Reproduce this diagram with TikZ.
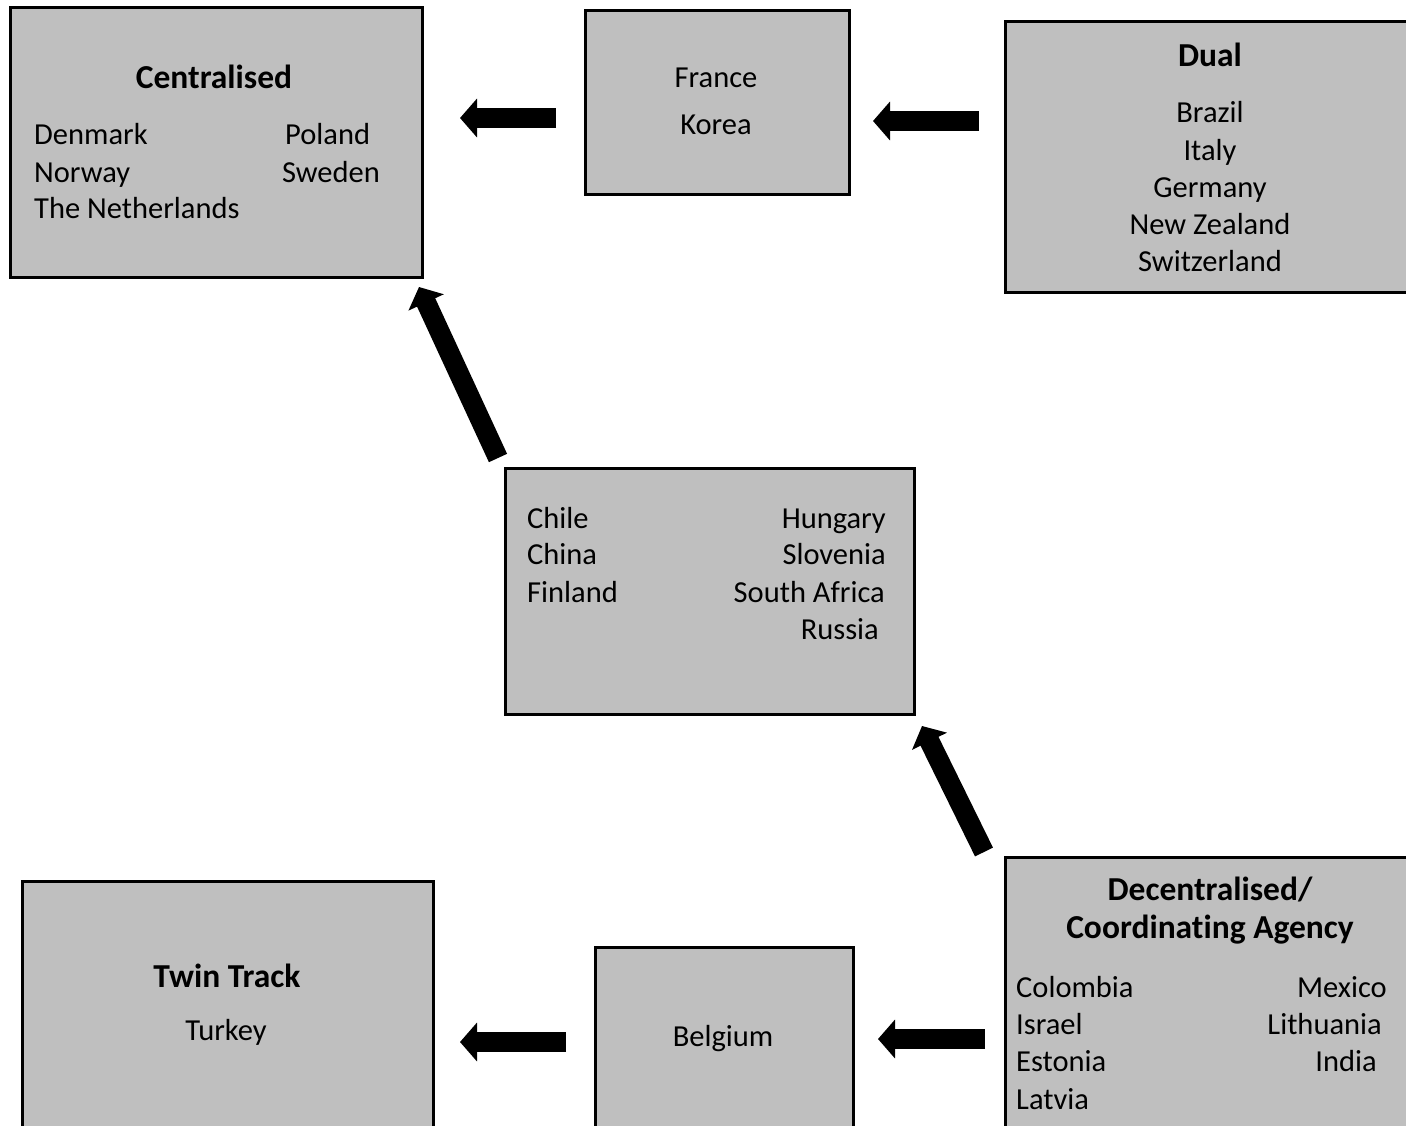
\documentclass[tikz,border=0pt]{standalone}
\usepackage{fontspec}
\setmainfont{Carlito}[Ligatures=NoCommon]
\usetikzlibrary{arrows.meta}
\definecolor{boxgray}{RGB}{191,191,191}
\begin{document}
\begin{tikzpicture}[x=1pt,y=-1pt,
 box/.style={draw=black, fill=boxgray, line width=3pt, rectangle},
 txt/.style={font=\fontsize{30.5}{36}\selectfont, inner sep=0pt, yshift=-8pt},
 ttl/.style={font=\bfseries\fontsize{33.5}{40}\selectfont, inner sep=0pt},
 fat/.style={draw=black, line width=20pt, -{Triangle[width=38pt,length=17pt]}}]
\useasboundingbox (0,0) rectangle (1406,1125);
\fill[white] (0,0) rectangle (1406,1125);
\clip (0,0) rectangle (1406,1125);
% boxes
\draw[box] (10,7) rectangle (422,277);
\draw[box] (585,10) rectangle (849,194);
\draw[box] (1005,21) rectangle (1430,292);
\draw[box] (505,468) rectangle (914,714);
\draw[box] (22,881) rectangle (433,1150);
\draw[box] (595,947) rectangle (853,1150);
\draw[box] (1005,857) rectangle (1430,1150);
% Centralised
\node[ttl] (cenT) at (214,77) {Centralised};
\node[txt, anchor=mid west] (den) at (34,134) {Denmark};
\node[txt, anchor=mid west] (nor) at (34,172) {Norway};
\node[txt, anchor=mid west] (net) at (34,208) {The Netherlands};
\node[txt, anchor=mid west] (pol) at (285,134) {Poland};
\node[txt, anchor=mid west] (swe) at (282,172) {Sweden};
% France Korea
\node[txt, anchor=mid] (fra) at (716,77) {France};
\node[txt, anchor=mid] (kor) at (716,124) {Korea};
% Dual
\node[ttl] (dualT) at (1210,55) {Dual};
\node[txt, anchor=mid] (bra) at (1210,112) {Brazil};
\node[txt, anchor=mid] (ita) at (1210,150) {Italy};
\node[txt, anchor=mid] (ger) at (1210,187) {Germany};
\node[txt, anchor=mid] (nz) at (1210,224) {New Zealand};
\node[txt, anchor=mid] (swi) at (1210,261) {Switzerland};
% Middle
\node[txt, anchor=mid west] (chi) at (527,518) {Chile};
\node[txt, anchor=mid west] (chn) at (527,554) {China};
\node[txt, anchor=mid west] (fin) at (527,592) {Finland};
\node[txt, anchor=mid east] (hun) at (886,518) {Hungary};
\node[txt, anchor=mid east] (slo) at (886,554) {Slovenia};
\node[txt, anchor=mid east] (sa) at (885,592) {South Africa};
\node[txt, anchor=mid east] (rus) at (879,629) {Russia};
% Twin Track
\node[ttl] (twinT) at (227,976) {Twin Track};
\node[txt, anchor=mid] (tur) at (226,1030) {Turkey};
% Belgium
\node[txt, anchor=mid] (bel) at (723,1036) {Belgium};
% Decentralised
\node[ttl] (decT1) at (1210,889) {Decentralised/};
\node[ttl] (decT2) at (1210,930) {Coordinating Agency};
\node[txt, anchor=mid west] (col) at (1016,987) {Colombia};
\node[txt, anchor=mid west] (isr) at (1016,1024) {Israel};
\node[txt, anchor=mid west] (est) at (1016,1061) {Estonia};
\node[txt, anchor=mid west] (lat) at (1016,1099) {Latvia};
\node[txt, anchor=mid east] (mex) at (1387,987) {Mexico};
\node[txt, anchor=mid east] (lit) at (1382,1024) {Lithuania};
\node[txt, anchor=mid east] (ind) at (1377,1061) {India};
% arrow end points
\coordinate (a1s) at (556,118); \coordinate (a1e) at (460,118);
\coordinate (a2s) at (979,121); \coordinate (a2e) at (873,121);
\coordinate (a3s) at (498,458); \coordinate (a3e) at (419,287);
\coordinate (a4s) at (984,852); \coordinate (a4e) at (922,726);
\coordinate (a5s) at (566,1042); \coordinate (a5e) at (460,1042);
\coordinate (a6s) at (985,1039); \coordinate (a6e) at (878,1039);
\draw[fat] (a1s) -- (a1e);
\draw[fat] (a2s) -- (a2e);
\draw[fat] (a3s) -- (a3e);
\draw[fat] (a4s) -- (a4e);
\draw[fat] (a5s) -- (a5e);
\draw[fat] (a6s) -- (a6e);
\end{tikzpicture}
\end{document}
